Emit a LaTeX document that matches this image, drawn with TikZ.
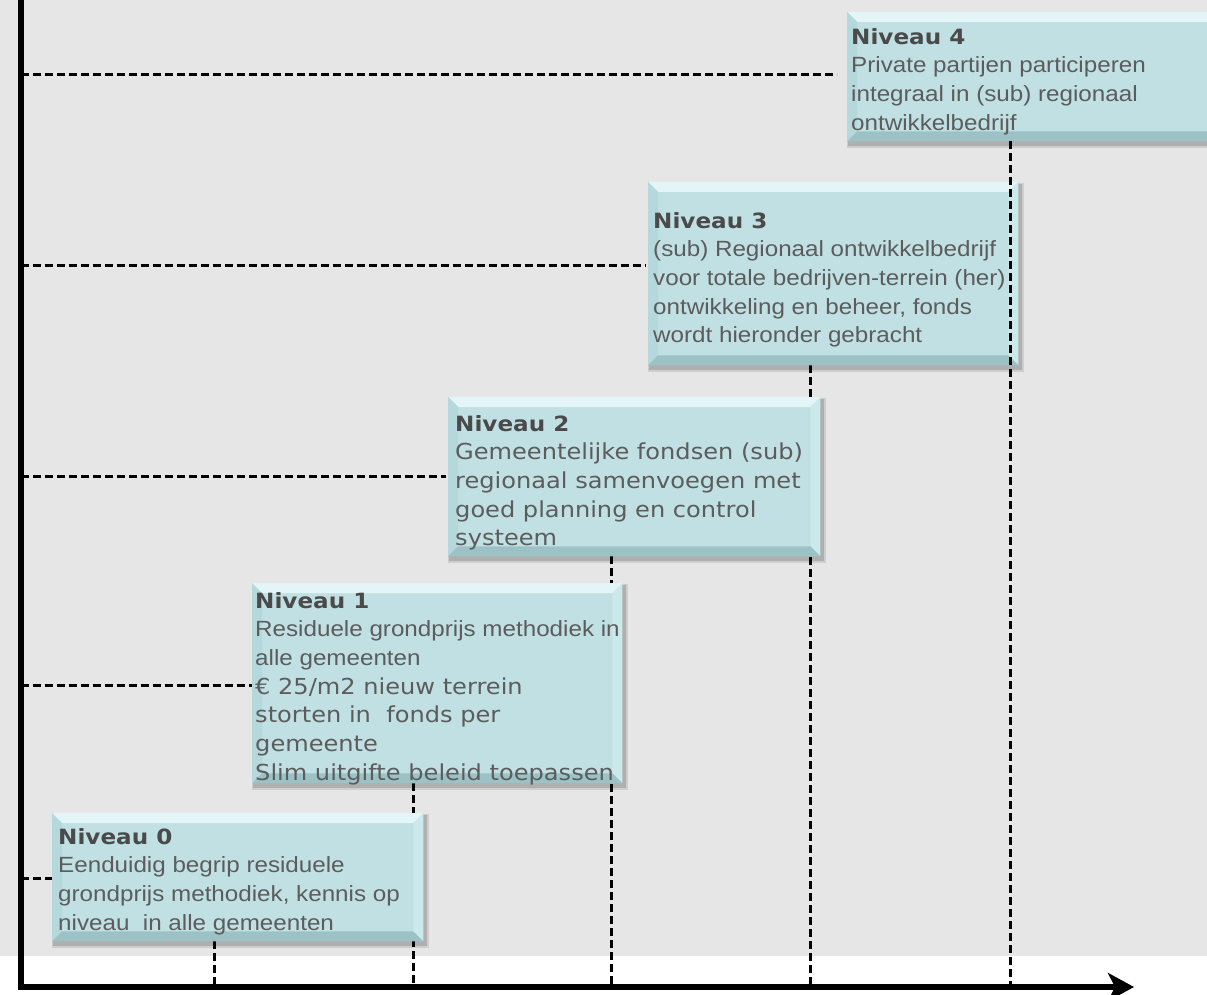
\documentclass[tikz,border=0pt]{standalone}
\usepackage{fontspec}
\setmainfont{Liberation Sans}[FakeStretch=1.1]
\newfontfamily\verd{DejaVu Sans}[FakeStretch=1.095]
\newfontfamily\verdb{DejaVu Sans Bold}[FakeStretch=1.1]
\usetikzlibrary{arrows.meta}
\definecolor{bg}{HTML}{E6E6E6}
\definecolor{boxfill}{HTML}{C1E0E3}
\definecolor{bevtop}{HTML}{E4F5F7}
\definecolor{bevleft}{HTML}{B5D8DC}
\definecolor{bevright}{HTML}{CBE8EB}
\definecolor{bevbot}{HTML}{9DC2C6}
\definecolor{txt}{HTML}{5C5C5C}
\definecolor{ttlc}{HTML}{4A4A4A}
\pgfdeclarelayer{backlayer}
\pgfdeclarelayer{guidelayer}
\pgfdeclarelayer{shadowlayer}
\pgfdeclarelayer{frontlayer}
\pgfsetlayers{backlayer,guidelayer,shadowlayer,main,frontlayer}
\tikzset{
  lvlbox/.style={draw=none, fill=boxfill, rectangle, inner sep=0pt, anchor=north west},
  lvltext/.style={anchor=north west, inner sep=0pt, align=left, text=txt, font=\fontsize{22}{28.7}\selectfont},
  guide/.style={line width=3pt, dash pattern=on 8pt off 4pt},
  axisline/.style={line width=6pt, line join=miter},
}
\newcommand\lvltitle[1]{{\verdb\fontsize{21}{28.7}\selectfont\color{ttlc}#1}}
\newcommand\vtext[1]{{\verd\fontsize{22}{28.7}\selectfont #1}}
\newcommand\bevelbox[1]{%
  \begin{pgfonlayer}{shadowlayer}
  \fill[black, opacity=0.10] ([shift={(0,1)}]#1.north west) rectangle ([shift={(6,7)}]#1.south east);
  \fill[black, opacity=0.15] ([shift={(1,2)}]#1.north west) rectangle ([shift={(4,5)}]#1.south east);
  \end{pgfonlayer}
  \fill[bevtop] (#1.north west) -- (#1.north east) -- ([shift={(-10,10)}]#1.north east) -- ([shift={(10,10)}]#1.north west) -- cycle;
  \fill[bevleft] (#1.north west) -- ([shift={(10,10)}]#1.north west) -- ([shift={(10,-10)}]#1.south west) -- (#1.south west) -- cycle;
  \fill[bevright] (#1.north east) -- ([shift={(-10,10)}]#1.north east) -- ([shift={(-10,-10)}]#1.south east) -- (#1.south east) -- cycle;
  \fill[bevbot] (#1.south west) -- ([shift={(10,-10)}]#1.south west) -- ([shift={(-10,-10)}]#1.south east) -- (#1.south east) -- cycle;
}
\begin{document}
\begin{tikzpicture}[x=1pt,y=-1pt]
\useasboundingbox (0,0) rectangle (1207,995);
\begin{pgfonlayer}{backlayer}
\fill[bg] (0,0) rectangle (1207,956);
\end{pgfonlayer}

\coordinate (axtop) at (21,-5);
\coordinate (org) at (21,987);
\coordinate (xend) at (1134,987);
\coordinate (h4) at (21,75);
\coordinate (h3) at (21,265);
\coordinate (h2) at (21,476);
\coordinate (h1) at (21,685);
\coordinate (h0) at (21,878);
\coordinate (v0) at (214,987);
\coordinate (v1) at (413,987);
\coordinate (v2) at (611,987);
\coordinate (v3) at (810,987);
\coordinate (v4) at (1010,987);

% level boxes
\node[lvlbox, minimum width=371pt, minimum height=128pt] (b0) at (52,813) {};
\bevelbox{b0}
\node[lvlbox, minimum width=370pt, minimum height=200pt] (b1) at (252,583) {};
\bevelbox{b1}
\node[lvlbox, minimum width=372pt, minimum height=159pt] (b2) at (448,397) {};
\bevelbox{b2}
\node[lvlbox, minimum width=370pt, minimum height=183pt] (b3) at (648,182) {};
\bevelbox{b3}
\node[lvlbox, minimum width=370pt, minimum height=129pt] (b4) at (847,12) {};
\bevelbox{b4}

% texts
\node[lvltext] (t0) at (58,828) {\lvltitle{Niveau 0}\\Eenduidig begrip residuele\\grondprijs methodiek, kennis op\\niveau~ in alle gemeenten};
\node[lvltext] (t1) at (255,592) {\lvltitle{Niveau 1}\\Residuele grondprijs methodiek in\\alle gemeenten\\\vtext{€ 25/m2 nieuw terrein}\\\vtext{storten in~ fonds per}\\\vtext{gemeente}\\\vtext{Slim uitgifte beleid toepassen}};
\node[lvltext] (t2) at (455,415) {\lvltitle{Niveau 2}\\\vtext{Gemeentelijke fondsen (sub)}\\\vtext{regionaal samenvoegen met}\\\vtext{goed planning en control}\\\vtext{systeem}};
\node[lvltext] (t3) at (653,212) {\lvltitle{Niveau 3}\\(sub) Regionaal ontwikkelbedrijf\\voor totale bedrijven-terrein (her)\\ontwikkeling en beheer, fonds\\wordt hieronder gebracht};
\node[lvltext] (t4) at (851,28) {\lvltitle{Niveau 4}\\Private partijen participeren\\integraal in (sub) regionaal\\ontwikkelbedrijf};

% guides
\begin{pgfonlayer}{guidelayer}
\draw[guide] (h4) -- ([xshift=-10pt]h4 -| b4.west);
\draw[guide] (h3) -- ([xshift=-2pt]h3 -| b3.west);
\draw[guide] (h2) -- ([xshift=-2pt]h2 -| b2.west);
\draw[guide] (h1) -- (h1 -| b1.west);
\draw[guide] (h0) -- (h0 -| b0.west);
\draw[guide] (v0 |- b0.south) -- (v0);
\draw[guide] (v1 |- b1.south) -- (v1);
\draw[guide] (v2 |- b2.south) -- (v2);
\draw[guide] (v3 |- b3.south) -- (v3);
\end{pgfonlayer}
\begin{pgfonlayer}{frontlayer}
\draw[guide] (v4 |- b4.south) -- (v4);
\draw[axisline, -{Stealth[length=26pt,width=28pt,inset=7pt]}] (axtop) -- (org) -- (xend);
\end{pgfonlayer}
\end{tikzpicture}
\end{document}
